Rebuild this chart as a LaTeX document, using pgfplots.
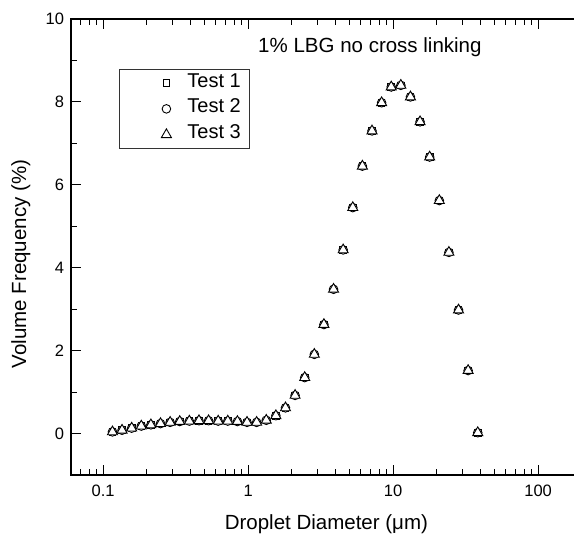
\documentclass[border=0pt]{standalone}
\usepackage{pgfplots}
\pgfplotsset{compat=1.18}
\usepackage{pgfplotstable}
\usepackage{fontspec}
\setmainfont{Liberation Sans}
\pgfplotstableread{
x y
0.1159 0.04
0.1350 0.08
0.1573 0.13
0.1832 0.18
0.2134 0.21
0.2486 0.24
0.2896 0.27
0.3374 0.29
0.3930 0.30
0.4578 0.31
0.5333 0.31
0.6213 0.30
0.7237 0.30
0.8431 0.29
0.9822 0.27
1.144 0.27
1.333 0.32
1.553 0.43
1.809 0.62
2.107 0.92
2.455 1.35
2.860 1.91
3.331 2.63
3.881 3.48
4.521 4.43
5.267 5.45
6.135 6.45
7.147 7.30
8.326 7.98
9.699 8.36
11.30 8.40
13.16 8.12
15.33 7.52
17.86 6.67
20.81 5.62
24.24 4.37
28.24 2.98
32.89 1.52
38.32 0.02
}\datatab
\pgfplotsset{mylegimg/.style={legend image code/.code={\path[draw=none] (0pt,0pt) -- (59pt,0pt); \draw[##1] plot coordinates {(38pt,0pt)};}}}
\begin{document}
\begin{tikzpicture}
\begin{axis}[
  at={(0pt,0pt)}, anchor=south west,
  scale only axis, width=510.8pt, height=456pt,
  xmode=log, log basis x=10,
  xmin=0.06, xmax=200, ymin=-1, ymax=10,
  xtick={0.1,1,10,100}, xticklabels={0.1,1,10,100},
  minor xtick={0.06,0.07,0.08,0.09,0.2,0.3,0.4,0.5,0.6,0.7,0.8,0.9,2,3,4,5,6,7,8,9,20,30,40,50,60,70,80,90,200},
  ytick={0,2,4,6,8,10}, yticklabels={0,2,4,6,8,10},
  minor ytick={-1,1,3,5,7,9},
  xtick pos=both, ytick pos=left,
  tick align=inside,
  major tick length=10pt, minor tick length=6pt,
  every tick/.style={black, line width=1pt},
  axis line style={line width=1.3pt},
  /pgf/number format/assume math mode=true,
  ticklabel style={font=\fontsize{16.5}{20}\selectfont},
  xticklabel style={yshift=-6.5pt},
  yticklabel style={xshift=-3.5pt},
  xlabel={Droplet Diameter (μm)},
  ylabel={Volume Frequency (\%)},
  every axis x label/.style={at={(axis description cs:0.5,-0.1206)}, anchor=base, font=\fontsize{20.5}{24}\selectfont},
  every axis y label/.style={at={(axis description cs:-0.098,0.4627)}, rotate=90, anchor=center, font=\fontsize{20.5}{24}\selectfont},
  legend style={at={(axis description cs:0.094,0.8904)}, anchor=north west,
    draw=black!80, line width=0.8pt, fill=white,
    font=\fontsize{20}{24}\selectfont,
    inner xsep=9pt, inner ysep=3.7pt, row sep=5.8pt,
    nodes={inner sep=0pt, text height=14pt, text depth=6pt}},
  legend cell align=left,
  clip=false,
]
\addplot[only marks, mark=square*, mark size=3.3pt, mark options={draw=black, fill=white, line width=0.9pt}, mylegimg] table[x=x,y=y] {\datatab};
\addlegendentry{Test 1}
\addplot[only marks, mark=*, mark size=4.3pt, mark options={draw=black, fill=white, line width=0.9pt}, mylegimg] table[x=x,y=y] {\datatab};
\addlegendentry{Test 2}
\addplot[only marks, mark=triangle*, mark size=5.8pt, mark options={draw=black, fill=white, line width=0.9pt}, mylegimg] table[x=x,y=y] {\datatab};
\addlegendentry{Test 3}
\node[anchor=base west, inner sep=0pt, font=\fontsize{20.5}{24}\selectfont] at (axis cs:1.17,9.18) {1\% LBG no cross linking};
\end{axis}
\pgfresetboundingbox
\path[use as bounding box] (-71pt,-62pt) rectangle (503pt,475pt);
\end{tikzpicture}
\end{document}
